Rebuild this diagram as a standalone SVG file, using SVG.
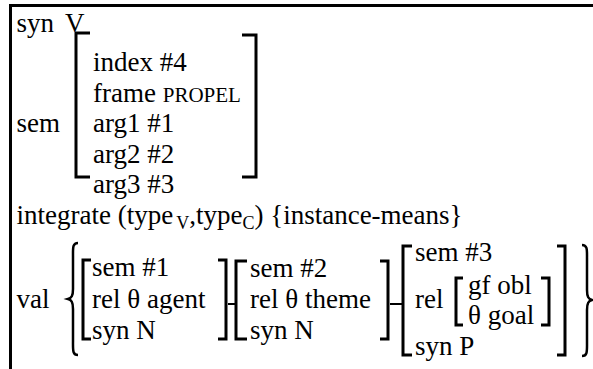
<svg xmlns="http://www.w3.org/2000/svg" width="593" height="369" viewBox="0 0 593 369">
<style>
text{font-family:"Liberation Serif","Times New Roman",serif;font-size:27px;fill:#000}
.sc{font-size:21px}
.sub{font-size:18px}
.br{fill:none;stroke:#000;stroke-width:3}
.bc{fill:none;stroke:#000;stroke-width:2.5}
.dash{stroke:#000;stroke-width:2}
</style>
<rect width="593" height="369" fill="#fff"/>
<rect x="10.5" y="5.5" width="620" height="400" fill="none" stroke="#000" stroke-width="3"/>
<g id="syn">
<text x="16.5" y="32">syn</text>
<text x="65" y="32">V</text>
</g>
<g id="sem">
<text x="16.5" y="132">sem</text>
<path class="br" d="M90,33 H76 V177 H90"/>
<path class="br" d="M242,35 H256 V177 H242"/>
<text x="93" y="71">index #4</text>
<text x="93" y="101.5">frame <tspan class="sc">PROPEL</tspan></text>
<text x="93" y="132">arg1 #1</text>
<text x="93" y="162.5">arg2 #2</text>
<text x="93" y="193">arg3 #3</text>
</g>
<g id="integrate">
<text x="16.5" y="224">integrate (type<tspan class="sub" dx="3" dy="5">V</tspan><tspan dy="-5">,type</tspan><tspan class="sub" dy="5">C</tspan><tspan dy="-5">) {instance-means}</tspan></text>
</g>
<g id="val">
<text x="16.5" y="308">val</text>
<path class="bc" d="M78,243 C72.5,243 73,248 73,256 L73,289 C73,296 71.5,298 68,299 C71.5,300 73,302 73,309 L73,342 C73,350 72.5,355 78,355"/>
<path class="bc" d="M582,245 C587.5,245 587,250 587,258 L587,290 C587,297 588.5,299 592,300 C588.5,301 587,303 587,310 L587,343 C587,351 587.5,356 582,356"/>
</g>
<g id="avm1">
<path class="br" d="M91,260 H83 V339 H91"/>
<path class="br" d="M218,260 H226 V339 H218"/>
<text x="92" y="276">sem #1</text>
<text x="92" y="308">rel θ agent</text>
<text x="92" y="339">syn N</text>
</g>
<g id="avm2">
<path class="br" d="M247,261 H236 V339 H247"/>
<path class="br" d="M380,261 H388 V339 H380"/>
<text x="250" y="277">sem #2</text>
<text x="250" y="308">rel θ theme</text>
<text x="250" y="339">syn N</text>
</g>
<g id="avm3">
<path class="br" d="M412,246 H403 V355 H412"/>
<path class="br" d="M557,246 H565 V355 H557"/>
<text x="415" y="261">sem #3</text>
<text x="415" y="308">rel</text>
<path class="br" d="M463,278 H456 V325 H463"/>
<path class="br" d="M541,278 H549 V325 H541"/>
<text x="468" y="294">gf obl</text>
<text x="468" y="324">θ goal</text>
<text x="415" y="355">syn P</text>
</g>
<g id="connectors">
<line class="dash" x1="228" y1="304" x2="235" y2="304"/>
<line class="dash" x1="390" y1="304" x2="402" y2="304"/>
</g>
</svg>
